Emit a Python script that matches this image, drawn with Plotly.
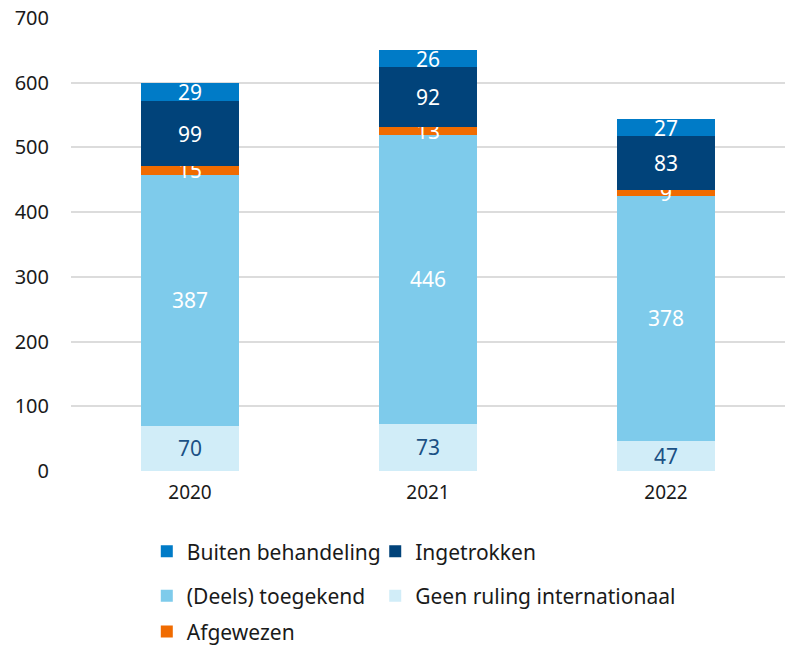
import plotly.graph_objects as go

years = ["2020", "2021", "2022"]
geen_ruling = [70, 73, 47]
deels_toegekend = [387, 446, 378]
afgewezen = [15, 13, 9]
ingetrokken = [99, 92, 83]
buiten_behandeling = [29, 26, 27]
y_ticks = [0, 100, 200, 300, 400, 500, 600, 700]

FONT = "Noto Sans"

series = [
    ("Geen ruling internationaal", geen_ruling, "#d1edf8", "#1b5185", "legend4"),
    ("(Deels) toegekend", deels_toegekend, "#7ecbeb", "white", "legend3"),
    ("Afgewezen", afgewezen, "#f06b00", "white", "legend5"),
    ("Ingetrokken", ingetrokken, "#01437a", "white", "legend2"),
    ("Buiten behandeling", buiten_behandeling, "#007bc7", "white", "legend"),
]

fig = go.Figure()
for name, vals, color, tcolor, leg in series:
    fig.add_trace(go.Bar(
        name=name, x=years, y=vals,
        marker=dict(color=color, line=dict(width=0)),
        text=[str(v) for v in vals],
        textposition="inside", insidetextanchor="middle", textangle=0,
        textfont=dict(color=tcolor, size=21, family=FONT),
        constraintext="none",
        width=0.41,
        legend=leg,
        showlegend=True,
    ))

leg_common = dict(orientation="h", xanchor="left", yanchor="middle",
                  xref="container", yref="container",
                  font=dict(size=21, family=FONT, color="#1a1a1a"),
                  bgcolor="rgba(0,0,0,0)")

c1, c2 = 0.187, 0.478
r1, r2, r3 = 0.150, 0.0815, 0.0265

fig.update_layout(
    width=785, height=649,
    showlegend=True,
    barmode="stack",
    plot_bgcolor="white", paper_bgcolor="white",
    margin=dict(l=71, r=0, t=18, b=178),
    font=dict(family=FONT, color="#1a1a1a"),
    uniformtext=dict(minsize=21, mode="show"),
    xaxis=dict(showgrid=False, showline=False, ticks="", automargin=False,
               ticklabelstandoff=8,
               tickfont=dict(size=19, family=FONT, color="#1a1a1a")),
    yaxis=dict(range=[0, 700], tickvals=y_ticks, showgrid=True,
               gridcolor="#dcdcdc", gridwidth=2, zeroline=False,
               showline=False, ticks="", ticklabelstandoff=21, automargin=False,
               tickfont=dict(size=20, family=FONT, color="#1a1a1a")),
    legend=dict(x=c1, y=r1, **leg_common),
    legend2=dict(x=c2, y=r1, **leg_common),
    legend3=dict(x=c1, y=r2, **leg_common),
    legend4=dict(x=c2, y=r2, **leg_common),
    legend5=dict(x=c1, y=r3, **leg_common),
)

fig.write_html("out.html", config={"displayModeBar": False},
               post_script="document.body.style.margin='0';document.body.style.overflow='hidden';")
